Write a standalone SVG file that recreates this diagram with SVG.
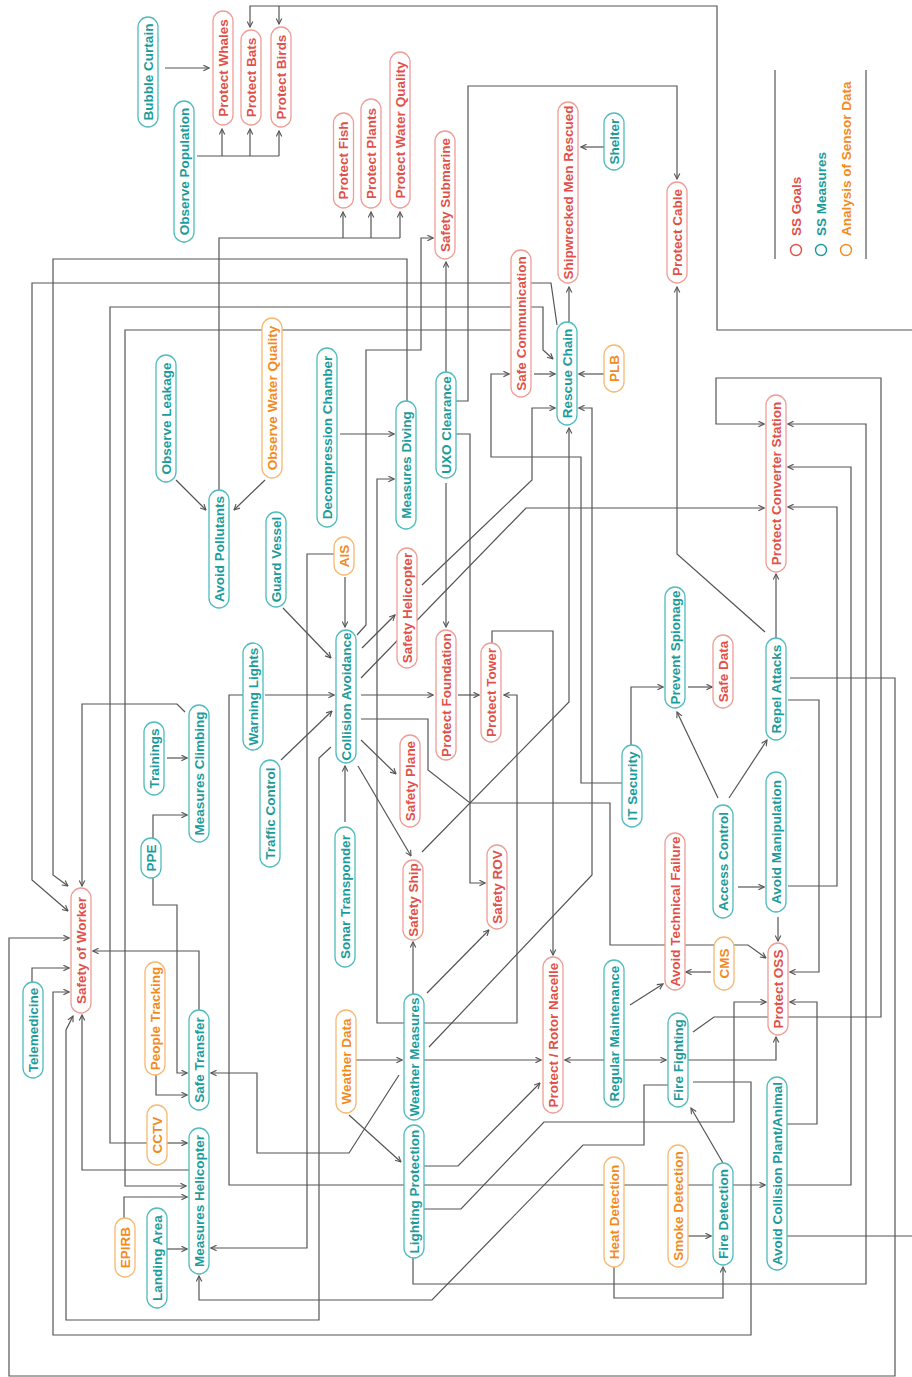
<svg xmlns="http://www.w3.org/2000/svg" width="912" height="1377" viewBox="0 0 912 1377">
<defs>
<marker id="ah" viewBox="0 0 10 10" refX="9" refY="5" markerWidth="7" markerHeight="7" markerUnits="userSpaceOnUse" orient="auto">
<path d="M1,1 L9,5 L1,9" fill="none" stroke="#555" stroke-width="1.6"/>
</marker>
<style>
text{font-family:"Liberation Sans",Arial,sans-serif;font-weight:bold;font-size:13.5px;text-anchor:middle;dominant-baseline:central}
rect{fill:#fff;stroke-width:1.3}
.goal rect{stroke:#ef9d96}.goal text{fill:#e2504a}
.meas rect{stroke:#4fbcbc}.meas text{fill:#1a9c9c}
.sens rect{stroke:#f7b870}.sens text{fill:#f48a1c}
#connectors path{fill:none;stroke:#555;stroke-width:1.2}
#connectors path.a{marker-end:url(#ah)}
.leg text{text-anchor:start;font-size:13.5px}
</style>
</defs>
<rect x="0" y="0" width="912" height="1377" fill="#fff" stroke="none"/>
<g id="connectors">
<path class="a" d="M165,68 H209"/>
<path d="M197,156 H279"/>
<path class="a" d="M222,156 V129"/>
<path class="a" d="M250,156 V129"/>
<path class="a" d="M279,156 V131"/>
<path d="M787,1236 H912"/>
<path class="a" d="M912,330 H717 V6 H250 V27"/>
<path class="a" d="M279,6 V24"/>
<path d="M219,490 V238 H400"/>
<path class="a" d="M343,238 V212"/>
<path class="a" d="M371,238 V212"/>
<path class="a" d="M400,238 V212"/>
<path class="a" d="M357,635 L366,625 V350 H421 V238 H433"/>
<path class="a" d="M446,372 V262"/>
<path class="a" d="M604,147 H581"/>
<path class="a" d="M569,322 V287"/>
<path class="a" d="M456,401 H468 V86 H677 V179"/>
<path class="a" d="M765,632 L677,554 V287"/>
<path class="a" d="M407,401 V259 H53 V875 L68,886"/>
<path class="a" d="M557,325 L551,283 H32 V880 L68,911"/>
<path class="a" d="M147,1143 H110 V307 H543 V350 L553,359"/>
<path class="a" d="M511,330 H125 V1186 H186"/>
<path class="a" d="M176,480 L206,510"/>
<path class="a" d="M265,480 L234,510"/>
<path class="a" d="M340,434 H394"/>
<path class="a" d="M404,1023 H377 V479 H394"/>
<path class="a" d="M424,1023 H517 V695 H504"/>
<path class="a" d="M446,483 V627"/>
<path class="a" d="M456,434 H470 V883 H485"/>
<path class="a" d="M534,374 H555"/>
<path class="a" d="M622,783 H581 V457 H491 V374 H509"/>
<path class="a" d="M604,374 H579"/>
<path class="a" d="M429,1047 L592,875 V408 H579"/>
<path class="a" d="M422,585 L532,480 V408 H555"/>
<path class="a" d="M422,852 L569,702 V428"/>
<path class="a" d="M361,678 L526,508 H764"/>
<path class="a" d="M362,648 L395,615"/>
<path class="a" d="M345,577 V627"/>
<path class="a" d="M334,554 H307 V1248 H211"/>
<path class="a" d="M283,608 L331,658"/>
<path class="a" d="M265,695 H334"/>
<path class="a" d="M243,695 H229 V1185 H765"/>
<path class="a" d="M281,760 L332,711"/>
<path class="a" d="M345,822 V766"/>
<path class="a" d="M361,695 H433"/>
<path class="a" d="M458,695 H479"/>
<path class="a" d="M361,719 H428 V770 L470,803 H610 V945 H748 L766,958"/>
<path class="a" d="M361,740 L396,774"/>
<path class="a" d="M358,766 L411,856"/>
<path class="a" d="M331,747 L319,758 V1320 H66 V1030 L73,1016"/>
<path class="a" d="M492,643 V631 H553 V955"/>
<path class="a" d="M413,994 V942"/>
<path class="a" d="M427,993 L489,930"/>
<path class="a" d="M185,712 L177,704 H82 V886"/>
<path class="a" d="M189,1170 H82 V1015"/>
<path class="a" d="M790,678 H895 V1376 H9 V938 H69"/>
<path class="a" d="M32,982 V968 H69"/>
<path class="a" d="M693,1082 H751 V1335 H53 V992 H69"/>
<path class="a" d="M199,1010 V951 H93"/>
<path class="a" d="M167,758 H187"/>
<path class="a" d="M153,838 V815 H187"/>
<path class="a" d="M153,878 V905 H177 V1073 H187"/>
<path class="a" d="M631,745 V687 H663"/>
<path class="a" d="M688,687 H712"/>
<path class="a" d="M718,798 L677,712"/>
<path class="a" d="M729,798 L767,740"/>
<path class="a" d="M738,887 H764"/>
<path class="a" d="M778,917 V941"/>
<path class="a" d="M788,886 H837 V507 H788"/>
<path class="a" d="M788,700 H819 V972 H790"/>
<path class="a" d="M776,638 V574"/>
<path class="a" d="M693,1032 L714,1017 H881 V378 H716 V424 H764"/>
<path class="a" d="M413,1258 V1284 H866 V424 H788"/>
<path class="a" d="M787,1185 H851 V467 H788"/>
<path class="a" d="M787,1124 H817 V1002 H790"/>
<path class="a" d="M424,1209 H461 L544,1122 H734 V1002 H766"/>
<path class="a" d="M711,972 H686"/>
<path class="a" d="M630,1005 L663,984"/>
<path class="a" d="M688,1060 H776 V1037"/>
<path class="a" d="M624,1060 H666"/>
<path class="a" d="M604,1060 H565"/>
<path class="a" d="M356,1060 H402"/>
<path class="a" d="M349,1115 L401,1162"/>
<path class="a" d="M424,1060 H541"/>
<path class="a" d="M424,1166 H458 L540,1083"/>
<path class="a" d="M399,1075 L349,1153 H257 V1073 H211"/>
<path class="a" d="M668,1085 H644 V1145 H583 L432,1300 H199 V1276"/>
<path class="a" d="M723,1163 L691,1108"/>
<path class="a" d="M688,1236 H711"/>
<path class="a" d="M614,1267 V1298 H723 V1267"/>
<path class="a" d="M156,1075 V1095 H187"/>
<path class="a" d="M167,1143 H187"/>
<path class="a" d="M124,1218 V1197 H187"/>
<path class="a" d="M167,1249 H187"/>
</g>
<g id="protect-whales" class="goal"><rect x="213" y="11" width="20" height="114" rx="10"/><text x="223" y="68" transform="rotate(-90 223 68)">Protect Whales</text></g>
<g id="protect-bats" class="goal"><rect x="241" y="30" width="20" height="95" rx="10"/><text x="251" y="77.5" transform="rotate(-90 251 77.5)">Protect Bats</text></g>
<g id="protect-birds" class="goal"><rect x="271" y="27" width="20" height="100" rx="10"/><text x="281" y="77" transform="rotate(-90 281 77)">Protect Birds</text></g>
<g id="protect-fish" class="goal"><rect x="333.5" y="113" width="20" height="95" rx="10"/><text x="343.5" y="160.5" transform="rotate(-90 343.5 160.5)">Protect Fish</text></g>
<g id="protect-plants" class="goal"><rect x="361" y="99" width="20" height="109" rx="10"/><text x="371" y="153.5" transform="rotate(-90 371 153.5)">Protect Plants</text></g>
<g id="protect-water-quality" class="goal"><rect x="390" y="52" width="20" height="156" rx="10"/><text x="400" y="130" transform="rotate(-90 400 130)">Protect Water Quality</text></g>
<g id="safety-submarine" class="goal"><rect x="435" y="131" width="20" height="128" rx="10"/><text x="445" y="195" transform="rotate(-90 445 195)">Safety Submarine</text></g>
<g id="shipwrecked-men-rescued" class="goal"><rect x="558" y="102" width="20" height="181" rx="10"/><text x="568" y="192.5" transform="rotate(-90 568 192.5)">Shipwrecked Men Rescued</text></g>
<g id="protect-cable" class="goal"><rect x="667" y="182" width="20" height="101" rx="10"/><text x="677" y="232.5" transform="rotate(-90 677 232.5)">Protect Cable</text></g>
<g id="safe-communication" class="goal"><rect x="511" y="250" width="20" height="147" rx="10"/><text x="521" y="323.5" transform="rotate(-90 521 323.5)">Safe Communication</text></g>
<g id="protect-converter-station" class="goal"><rect x="766" y="395" width="20" height="177" rx="10"/><text x="776" y="483.5" transform="rotate(-90 776 483.5)">Protect Converter Station</text></g>
<g id="safety-helicopter" class="goal"><rect x="397" y="548" width="20" height="120" rx="10"/><text x="407" y="608" transform="rotate(-90 407 608)">Safety Helicopter</text></g>
<g id="protect-foundation" class="goal"><rect x="436" y="630" width="20" height="130" rx="10"/><text x="446" y="695" transform="rotate(-90 446 695)">Protect Foundation</text></g>
<g id="protect-tower" class="goal"><rect x="481" y="643" width="20" height="99" rx="10"/><text x="491" y="692.5" transform="rotate(-90 491 692.5)">Protect Tower</text></g>
<g id="safe-data" class="goal"><rect x="713" y="635" width="20" height="73" rx="10"/><text x="723" y="671.5" transform="rotate(-90 723 671.5)">Safe Data</text></g>
<g id="safety-plane" class="goal"><rect x="400" y="735" width="20" height="92" rx="10"/><text x="410" y="781" transform="rotate(-90 410 781)">Safety Plane</text></g>
<g id="safety-ship" class="goal"><rect x="403" y="860" width="20" height="80" rx="10"/><text x="413" y="900" transform="rotate(-90 413 900)">Safety Ship</text></g>
<g id="safety-rov" class="goal"><rect x="487" y="845" width="20" height="84" rx="10"/><text x="497" y="887" transform="rotate(-90 497 887)">Safety ROV</text></g>
<g id="protect-rotor-nacelle" class="goal"><rect x="543" y="957" width="20" height="156" rx="10"/><text x="553" y="1035" transform="rotate(-90 553 1035)">Protect / Rotor Nacelle</text></g>
<g id="avoid-technical-failure" class="goal"><rect x="665" y="833" width="20" height="157" rx="10"/><text x="675" y="911.5" transform="rotate(-90 675 911.5)">Avoid Technical Failure</text></g>
<g id="protect-oss" class="goal"><rect x="768" y="943" width="20" height="92" rx="10"/><text x="778" y="989" transform="rotate(-90 778 989)">Protect OSS</text></g>
<g id="safety-of-worker" class="goal"><rect x="71" y="888" width="20" height="125" rx="10"/><text x="81" y="950.5" transform="rotate(-90 81 950.5)">Safety of Worker</text></g>
<g id="bubble-curtain" class="meas"><rect x="138" y="17" width="20" height="110" rx="10"/><text x="148" y="72" transform="rotate(-90 148 72)">Bubble Curtain</text></g>
<g id="observe-population" class="meas"><rect x="174" y="101" width="20" height="141" rx="10"/><text x="184" y="171.5" transform="rotate(-90 184 171.5)">Observe Population</text></g>
<g id="shelter" class="meas"><rect x="604" y="113" width="20" height="57" rx="10"/><text x="614" y="141.5" transform="rotate(-90 614 141.5)">Shelter</text></g>
<g id="observe-leakage" class="meas"><rect x="156" y="355" width="20" height="127" rx="10"/><text x="166" y="418.5" transform="rotate(-90 166 418.5)">Observe Leakage</text></g>
<g id="avoid-pollutants" class="meas"><rect x="209" y="490" width="20" height="118" rx="10"/><text x="219" y="549" transform="rotate(-90 219 549)">Avoid Pollutants</text></g>
<g id="decompression-chamber" class="meas"><rect x="317" y="348" width="20" height="179" rx="10"/><text x="327" y="437.5" transform="rotate(-90 327 437.5)">Decompression Chamber</text></g>
<g id="measures-diving" class="meas"><rect x="396" y="401" width="20" height="128" rx="10"/><text x="406" y="465" transform="rotate(-90 406 465)">Measures Diving</text></g>
<g id="uxo-clearance" class="meas"><rect x="436" y="372" width="20" height="106" rx="10"/><text x="446" y="425" transform="rotate(-90 446 425)">UXO Clearance</text></g>
<g id="rescue-chain" class="meas"><rect x="557" y="322" width="20" height="103" rx="10"/><text x="567" y="373.5" transform="rotate(-90 567 373.5)">Rescue Chain</text></g>
<g id="guard-vessel" class="meas"><rect x="266" y="512" width="20" height="95" rx="10"/><text x="276" y="559.5" transform="rotate(-90 276 559.5)">Guard Vessel</text></g>
<g id="collision-avoidance" class="meas"><rect x="336" y="630" width="20" height="133" rx="10"/><text x="346" y="696.5" transform="rotate(-90 346 696.5)">Collision Avoidance</text></g>
<g id="warning-lights" class="meas"><rect x="243" y="643" width="20" height="107" rx="10"/><text x="253" y="696.5" transform="rotate(-90 253 696.5)">Warning Lights</text></g>
<g id="traffic-control" class="meas"><rect x="260" y="760" width="20" height="107" rx="10"/><text x="270" y="813.5" transform="rotate(-90 270 813.5)">Traffic Control</text></g>
<g id="trainings" class="meas"><rect x="144" y="722" width="20" height="73" rx="10"/><text x="154" y="758.5" transform="rotate(-90 154 758.5)">Trainings</text></g>
<g id="measures-climbing" class="meas"><rect x="189" y="705" width="20" height="137" rx="10"/><text x="199" y="773.5" transform="rotate(-90 199 773.5)">Measures Climbing</text></g>
<g id="ppe" class="meas"><rect x="141" y="838" width="20" height="40" rx="10"/><text x="151" y="858" transform="rotate(-90 151 858)">PPE</text></g>
<g id="sonar-transponder" class="meas"><rect x="335" y="827" width="20" height="140" rx="10"/><text x="345" y="897" transform="rotate(-90 345 897)">Sonar Transponder</text></g>
<g id="prevent-spionage" class="meas"><rect x="665" y="587" width="20" height="121" rx="10"/><text x="675" y="647.5" transform="rotate(-90 675 647.5)">Prevent Spionage</text></g>
<g id="it-security" class="meas"><rect x="622" y="745" width="20" height="82" rx="10"/><text x="632" y="786" transform="rotate(-90 632 786)">IT Security</text></g>
<g id="repel-attacks" class="meas"><rect x="766" y="638" width="20" height="102" rx="10"/><text x="776" y="689" transform="rotate(-90 776 689)">Repel Attacks</text></g>
<g id="access-control" class="meas"><rect x="713" y="805" width="20" height="113" rx="10"/><text x="723" y="861.5" transform="rotate(-90 723 861.5)">Access Control</text></g>
<g id="avoid-manipulation" class="meas"><rect x="766" y="772" width="20" height="140" rx="10"/><text x="776" y="842" transform="rotate(-90 776 842)">Avoid Manipulation</text></g>
<g id="telemedicine" class="meas"><rect x="23" y="982" width="20" height="96" rx="10"/><text x="33" y="1030" transform="rotate(-90 33 1030)">Telemedicine</text></g>
<g id="safe-transfer" class="meas"><rect x="189" y="1010" width="20" height="100" rx="10"/><text x="199" y="1060" transform="rotate(-90 199 1060)">Safe Transfer</text></g>
<g id="measures-helicopter" class="meas"><rect x="189" y="1128" width="20" height="146" rx="10"/><text x="199" y="1201" transform="rotate(-90 199 1201)">Measures Helicopter</text></g>
<g id="landing-area" class="meas"><rect x="147" y="1208" width="20" height="100" rx="10"/><text x="157" y="1258" transform="rotate(-90 157 1258)">Landing Area</text></g>
<g id="weather-measures" class="meas"><rect x="404" y="994" width="20" height="126" rx="10"/><text x="414" y="1057" transform="rotate(-90 414 1057)">Weather Measures</text></g>
<g id="lighting-protection" class="meas"><rect x="404" y="1125" width="20" height="133" rx="10"/><text x="414" y="1191.5" transform="rotate(-90 414 1191.5)">Lighting Protection</text></g>
<g id="regular-maintenance" class="meas"><rect x="604" y="960" width="20" height="147" rx="10"/><text x="614" y="1033.5" transform="rotate(-90 614 1033.5)">Regular Maintenance</text></g>
<g id="fire-fighting" class="meas"><rect x="668" y="1013" width="20" height="94" rx="10"/><text x="678" y="1060" transform="rotate(-90 678 1060)">Fire Fighting</text></g>
<g id="fire-detection" class="meas"><rect x="713" y="1163" width="20" height="102" rx="10"/><text x="723" y="1214" transform="rotate(-90 723 1214)">Fire Detection</text></g>
<g id="avoid-collision-plant-animal" class="meas"><rect x="767" y="1077" width="20" height="193" rx="10"/><text x="777" y="1173.5" transform="rotate(-90 777 1173.5)">Avoid Collision Plant/Animal</text></g>
<g id="observe-water-quality" class="sens"><rect x="262" y="318" width="20" height="160" rx="10"/><text x="272" y="398" transform="rotate(-90 272 398)">Observe Water Quality</text></g>
<g id="ais" class="sens"><rect x="334" y="537" width="20" height="38" rx="10"/><text x="344" y="556" transform="rotate(-90 344 556)">AIS</text></g>
<g id="plb" class="sens"><rect x="604" y="345" width="20" height="47" rx="10"/><text x="614" y="368.5" transform="rotate(-90 614 368.5)">PLB</text></g>
<g id="cms" class="sens"><rect x="714" y="937" width="20" height="53" rx="10"/><text x="724" y="963.5" transform="rotate(-90 724 963.5)">CMS</text></g>
<g id="people-tracking" class="sens"><rect x="145" y="962" width="20" height="113" rx="10"/><text x="155" y="1018.5" transform="rotate(-90 155 1018.5)">People Tracking</text></g>
<g id="cctv" class="sens"><rect x="147" y="1105" width="20" height="60" rx="10"/><text x="157" y="1135" transform="rotate(-90 157 1135)">CCTV</text></g>
<g id="weather-data" class="sens"><rect x="336" y="1010" width="20" height="103" rx="10"/><text x="346" y="1061.5" transform="rotate(-90 346 1061.5)">Weather Data</text></g>
<g id="epirb" class="sens"><rect x="115" y="1218" width="20" height="59" rx="10"/><text x="125" y="1247.5" transform="rotate(-90 125 1247.5)">EPIRB</text></g>
<g id="heat-detection" class="sens"><rect x="604" y="1157" width="20" height="110" rx="10"/><text x="614" y="1212" transform="rotate(-90 614 1212)">Heat Detection</text></g>
<g id="smoke-detection" class="sens"><rect x="668" y="1145" width="20" height="122" rx="10"/><text x="678" y="1206" transform="rotate(-90 678 1206)">Smoke Detection</text></g>
<g id="legend" class="leg">
<line x1="775" y1="70" x2="775" y2="259" stroke="#555" stroke-width="1.2"/>
<line x1="866" y1="70" x2="866" y2="259" stroke="#555" stroke-width="1.2"/>
<circle cx="796" cy="250" r="5.5" fill="none" stroke="#e2504a" stroke-width="1.4"/>
<circle cx="821" cy="250" r="5.5" fill="none" stroke="#1a9c9c" stroke-width="1.4"/>
<circle cx="846" cy="250" r="5.5" fill="none" stroke="#f48a1c" stroke-width="1.4"/>
<text x="796" y="236" transform="rotate(-90 796 236)" fill="#e2504a">SS Goals</text>
<text x="821" y="236" transform="rotate(-90 821 236)" fill="#1a9c9c">SS Measures</text>
<text x="846" y="236" transform="rotate(-90 846 236)" fill="#f48a1c">Analysis of Sensor Data</text>
</g>
</svg>
